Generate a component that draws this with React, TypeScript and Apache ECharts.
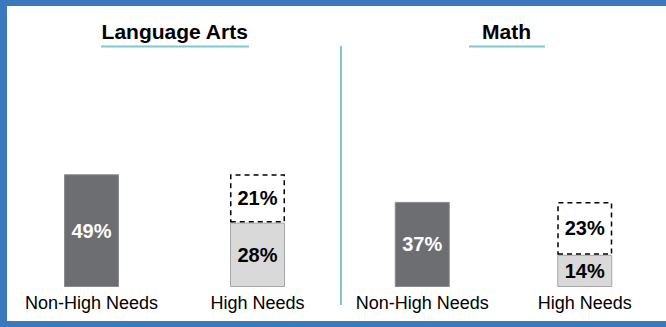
import React, { useEffect, useRef } from "react";
import * as echarts from "echarts";

const categories = ["Non-High Needs", "High Needs"];
const subjects = ["Language Arts", "Math"];
const laSolid = [49, 28];
const laDashed = [null, 21];
const mathSolid = [37, 14];
const mathDashed = [null, 23];

const FONT = "'Liberation Sans', Arial, Helvetica, sans-serif";
const DARK = "#6d6e71";
const DARK_BORDER = "#8a8b8e";
const LIGHT = "#d9d9d9";
const LIGHT_BORDER = "#a6a6a6";
const TEAL = "#80c6d3";
const BLUE = "#3b78bd";

function solidSeries(values: number[], axis: number) {
  return {
    type: "bar",
    xAxisIndex: axis,
    yAxisIndex: axis,
    stack: "s" + axis,
    barWidth: 55,
    data: values.map((v, i) => ({
      value: v,
      itemStyle: {
        color: i === 0 ? DARK : LIGHT,
        borderColor: i === 0 ? DARK_BORDER : LIGHT_BORDER,
        borderWidth: 1,
      },
      label: {
        color: i === 0 ? "#ffffff" : "#000000",
      },
    })),
    label: {
      show: true,
      position: "inside",
      formatter: "{c}%",
      fontFamily: FONT,
      fontSize: 20,
      fontWeight: "bold",
    },
  };
}

function dashedSeries(values: (number | null)[], axis: number) {
  return {
    type: "bar",
    xAxisIndex: axis,
    yAxisIndex: axis,
    stack: "s" + axis,
    barWidth: 55,
    data: values,
    itemStyle: {
      color: "rgba(255,255,255,0)",
      borderColor: "#000000",
      borderWidth: 1.5,
      borderType: [5, 4],
    },
    label: {
      show: true,
      position: "inside",
      formatter: "{c}%",
      color: "#000000",
      fontFamily: FONT,
      fontSize: 20,
      fontWeight: "bold",
    },
  };
}

export default function App() {
  const ref = useRef<HTMLDivElement>(null);
  useEffect(() => {
    if (!ref.current) return;
    const chart = echarts.init(ref.current, null, { renderer: "svg" });
    const xAxisBase = {
      type: "category",
      data: categories,
      axisLine: { show: false },
      axisTick: { show: false },
      axisLabel: {
        margin: 7,
        color: "#000000",
        fontFamily: FONT,
        fontSize: 18,
        interval: 0,
      },
    };
    const yAxisBase = { type: "value", min: 0, max: 100, show: false };
    chart.setOption({
      animation: false,
      backgroundColor: "#ffffff",
      grid: [
        { left: 8.5, width: 332, top: 57, bottom: 40 },
        { left: 341, width: 332, top: 57, bottom: 40 },
      ],
      xAxis: [
        { ...xAxisBase, gridIndex: 0 },
        { ...xAxisBase, gridIndex: 1 },
      ],
      yAxis: [
        { ...yAxisBase, gridIndex: 0 },
        { ...yAxisBase, gridIndex: 1 },
      ],
      series: [
        solidSeries(laSolid, 0),
        dashedSeries(laDashed, 0),
        solidSeries(mathSolid, 1),
        dashedSeries(mathDashed, 1),
      ],
      graphic: [
        { type: "rect", shape: { x: 0, y: 0, width: 666, height: 6 }, style: { fill: BLUE } },
        { type: "rect", shape: { x: 0, y: 0, width: 7, height: 327 }, style: { fill: BLUE } },
        { type: "rect", shape: { x: 0, y: 321, width: 666, height: 6 }, style: { fill: BLUE } },
        { type: "rect", shape: { x: 101, y: 45.5, width: 148, height: 2 }, style: { fill: TEAL } },
        { type: "rect", shape: { x: 469, y: 45.5, width: 76, height: 2 }, style: { fill: TEAL } },
        { type: "rect", shape: { x: 340, y: 46, width: 2, height: 259 }, style: { fill: TEAL } },
        {
          type: "text",
          x: 174.7,
          y: 31,
          style: {
            text: subjects[0],
            fill: "#000000",
            font: `bold 21px ${FONT}`,
            align: "center",
            verticalAlign: "middle",
          },
        },
        {
          type: "text",
          x: 506.5,
          y: 31,
          style: {
            text: subjects[1],
            fill: "#000000",
            font: `bold 21px ${FONT}`,
            align: "center",
            verticalAlign: "middle",
          },
        },
      ],
    });
    return () => chart.dispose();
  }, []);
  return (
    <div
      ref={ref}
      style={{ position: "fixed", left: 0, top: 0, width: 666, height: 327 }}
    />
  );
}
